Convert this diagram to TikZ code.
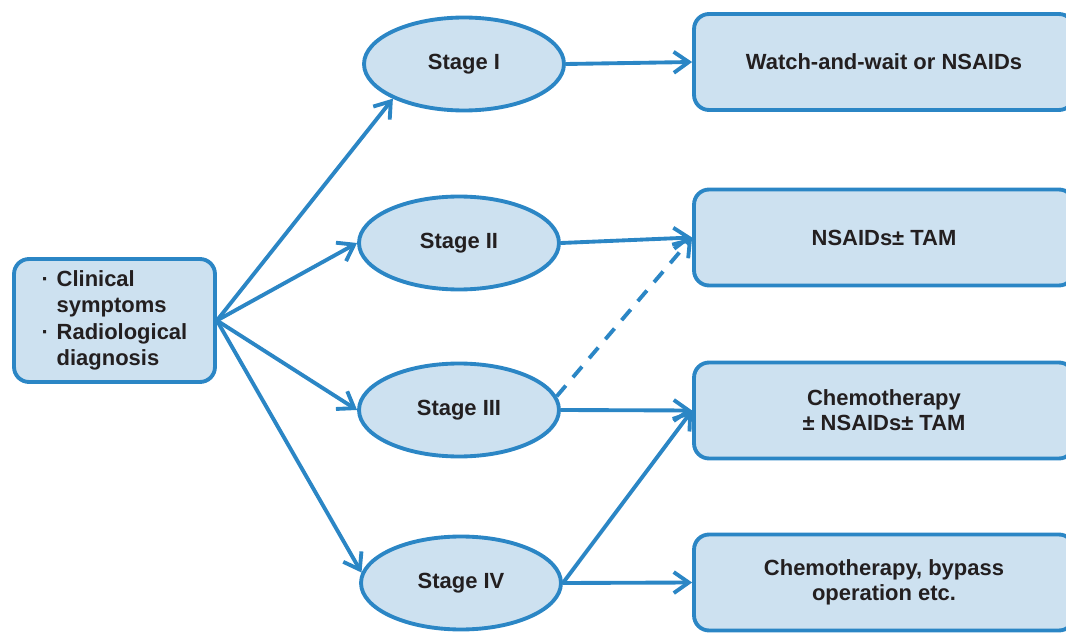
\documentclass[tikz,border=0pt]{standalone}
\usepackage{fontspec}
\setmainfont{Liberation Sans}
\usepackage{tikz}
\usetikzlibrary{shapes.geometric, arrows.meta}

\definecolor{flowblue}{RGB}{43,134,197}
\definecolor{flowfill}{RGB}{205,225,240}
\definecolor{flowtext}{RGB}{35,31,32}

\tikzset{
  basenode/.style={draw=flowblue, fill=flowfill, line width=2.2pt, text=flowtext,
    font=\fontsize{12.5}{14.2}\selectfont\bfseries, inner sep=0pt},
  symptbox/.style={basenode, rounded corners=0.3cm, minimum width=4.02cm,
    minimum height=2.46cm, align=left, font=\fontsize{12.5}{15}\selectfont\bfseries},
  stageoval/.style={basenode, ellipse, minimum width=4.0cm, minimum height=1.86cm},
  therapybox/.style={basenode, rounded corners=0.3cm, minimum width=7.6cm,
    minimum height=1.92cm, align=center},
  flowarrow/.style={draw=flowblue, line width=2.2pt,
    -{Straight Barb[length=3mm, width=4.2mm]}},
}

\begin{document}
\begin{tikzpicture}[x=0.02cm, y=-0.02cm]
    \clip (0,0) rectangle (1066,635);

    % Starting box
    \node[symptbox] (sympt) at (114.5,320.5)
      {\makebox[0.3cm][l]{·}Clinical\\
       \hspace*{0.3cm}symptoms\\
       \makebox[0.3cm][l]{·}Radiological\\
       \hspace*{0.3cm}diagnosis};

    % Stages
    \foreach \i/\x/\y/\st in {1/464/64/I, 2/459/243/II, 3/459/410/III, 4/461/583/IV} {
      \node[stageoval] (stage\i) at (\x,\y) {Stage \st};
    }

    % Therapies
    \foreach \i/\y/\txt in {1/62/{Watch-and-wait or NSAIDs}, 2/237.5/{NSAIDs± TAM},
        3/410.5/{Chemotherapy\\ ± NSAIDs± TAM}, 4/582.5/{Chemotherapy, bypass\\ operation etc.}} {
      \node[therapybox] (therapy\i) at (884,\y) {\txt};
    }

    % Arrows to the stages
    \draw[flowarrow] (sympt.east) -- (stage1.206);
    \draw[flowarrow] (sympt.east) -- (stage2.west);
    \draw[flowarrow] (sympt.east) -- (stage3.west);
    \draw[flowarrow] (sympt.east) -- (stage4.174);

    % Arrows to the therapies
    \foreach \i in {1,...,4} {
      \draw[flowarrow] (stage\i.east) -- (therapy\i.west);
    }
    \draw[flowarrow] (stage4.east) -- (therapy3.west);
    \draw[flowarrow, dash pattern=on 0.28cm off 0.22cm] (stage3.8) -- (therapy2.west);

  \end{tikzpicture}
\end{document}
